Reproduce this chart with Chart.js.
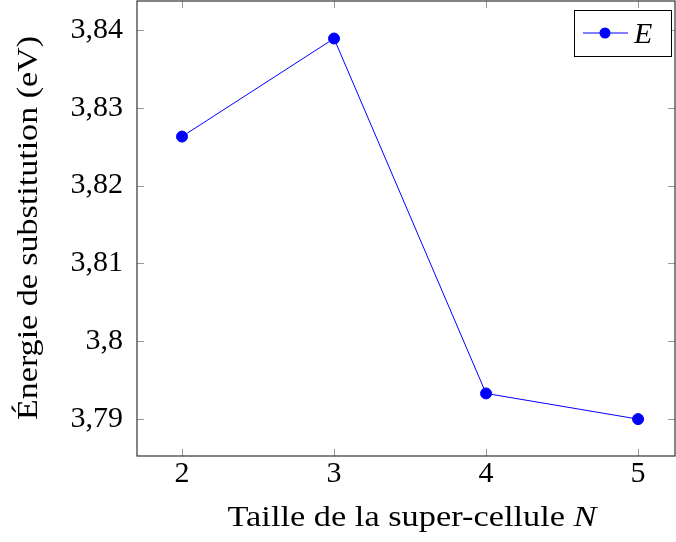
<!DOCTYPE html>
<html>
<head>
<meta charset="utf-8">
<script src="https://cdn.jsdelivr.net/npm/chart.js@4/dist/chart.umd.min.js"></script>
<style>
  html, body { margin: 0; padding: 0; background: #fff; }
  canvas { display: block; }
</style>
</head>
<body>
<canvas id="chart" width="676" height="542"></canvas>
<script>
// data
const sizes = [2, 3, 4, 5];
const energies = [3.8263, 3.8389, 3.7933, 3.7900];
const yTicks = [3.79, 3.80, 3.81, 3.82, 3.83, 3.84];
const xTicks = [2, 3, 4, 5];

const FONT = '"Liberation Serif", "DejaVu Serif", serif';
const tickCol = '#999';

// inward ticks on all four sides, pgfplots style
const innerTicks = {
  id: 'innerTicks',
  afterDatasetsDraw(chart) {
    const { ctx, chartArea: a, scales: { x, y } } = chart;
    ctx.save();
    ctx.strokeStyle = tickCol;
    ctx.lineWidth = 1;
    ctx.beginPath();
    xTicks.forEach(v => {
      const px = Math.round(x.getPixelForValue(v)) + 0.5;
      ctx.moveTo(px, a.bottom); ctx.lineTo(px, a.bottom - 7);
      ctx.moveTo(px, a.top); ctx.lineTo(px, a.top + 7);
    });
    yTicks.forEach(v => {
      const py = Math.round(y.getPixelForValue(v)) + 0.5;
      ctx.moveTo(a.left, py); ctx.lineTo(a.left + 7, py);
      ctx.moveTo(a.right, py); ctx.lineTo(a.right - 7, py);
    });
    ctx.stroke();
    ctx.strokeStyle = '#333';
    ctx.lineWidth = 1.2;
    ctx.strokeRect(a.left, a.top, a.right - a.left, a.bottom - a.top);
    ctx.restore();
  }
};

// draw text stretched horizontally to a given width (Computer Modern is wider than Times)
function wideText(ctx, parts, cx, cy, width) {
  let total = 0;
  parts.forEach(p => { ctx.font = p.font; total += ctx.measureText(p.text).width; });
  const k = width / total;
  ctx.save();
  ctx.translate(cx - width / 2, cy);
  ctx.scale(k, 1);
  let x = 0;
  parts.forEach(p => {
    ctx.font = p.font;
    ctx.fillText(p.text, x, 0);
    x += ctx.measureText(p.text).width;
  });
  ctx.restore();
}

// axis titles and legend (mixed italic text)
const extras = {
  id: 'extras',
  afterDraw(chart) {
    const { ctx, chartArea: a } = chart;
    ctx.save();
    ctx.fillStyle = '#000';
    ctx.textBaseline = 'alphabetic';
    ctx.textAlign = 'left';

    wideText(ctx, [
      { text: 'Taille de la super-cellule ', font: '29px ' + FONT },
      { text: 'N', font: 'italic 29px ' + FONT },
    ], 412, 526, 369);

    ctx.save();
    ctx.translate(37, 228);
    ctx.rotate(-Math.PI / 2);
    wideText(ctx, [{ text: 'Énergie de substitution (eV)', font: '29px ' + FONT }], 0, 0, 384);
    ctx.restore();
    ctx.restore();

    // legend box
    ctx.save();
    const lx = 574.5, ly = 10.5, lw = 97, lh = 46;
    ctx.fillStyle = '#fff';
    ctx.fillRect(lx, ly, lw, lh);
    ctx.strokeStyle = '#000';
    ctx.lineWidth = 1;
    ctx.strokeRect(lx, ly, lw, lh);
    ctx.strokeStyle = '#0000ff';
    ctx.beginPath();
    ctx.moveTo(583, 33); ctx.lineTo(628, 33);
    ctx.stroke();
    ctx.fillStyle = '#0000ff';
    ctx.beginPath();
    ctx.arc(605, 33, 5.5, 0, Math.PI * 2);
    ctx.fill();
    ctx.fillStyle = '#000';
    ctx.font = 'italic 30px ' + FONT;
    ctx.fillText('E', 634, 43);
    ctx.restore();
  }
};

new Chart(document.getElementById('chart'), {
  type: 'line',
  data: {
    datasets: [{
      label: 'E',
      data: sizes.map((n, i) => ({ x: n, y: energies[i] })),
      borderColor: '#0000ff',
      backgroundColor: '#0000ff',
      borderWidth: 1,
      pointRadius: 5.5,
      pointHoverRadius: 5.5,
      tension: 0,
    }],
  },
  options: {
    responsive: false,
    animation: false,
    layout: { autoPadding: false, padding: { top: 1, right: 1, left: 0, bottom: 0 } },
    plugins: { legend: { display: false }, tooltip: { enabled: false } },
    scales: {
      x: {
        type: 'linear',
        min: 1.704,
        max: 5.243,
        afterBuildTicks: s => { s.ticks = xTicks.map(v => ({ value: v })); },
        afterFit: s => { s.height = 86; s.paddingLeft = 0; s.paddingRight = 0; },
        grid: { display: false, drawTicks: false },
        border: { display: false },
        ticks: {
          color: '#000',
          font: { family: FONT, size: 30 },
          padding: 0,
          maxRotation: 0,
          callback: v => String(v),
        },
      },
      y: {
        min: 3.78526,
        max: 3.84372,
        afterBuildTicks: s => { s.ticks = yTicks.map(v => ({ value: v })); },
        afterFit: s => { s.width = 137; s.paddingTop = 0; s.paddingBottom = 0; },
        grid: { display: false, drawTicks: false },
        border: { display: false },
        ticks: {
          color: '#000',
          font: { family: FONT, size: 30 },
          padding: 14,
          callback: v => String(+v.toFixed(2)).replace('.', ','),
        },
      },
    },
  },
  plugins: [innerTicks, extras],
});
</script>
</body>
</html>
